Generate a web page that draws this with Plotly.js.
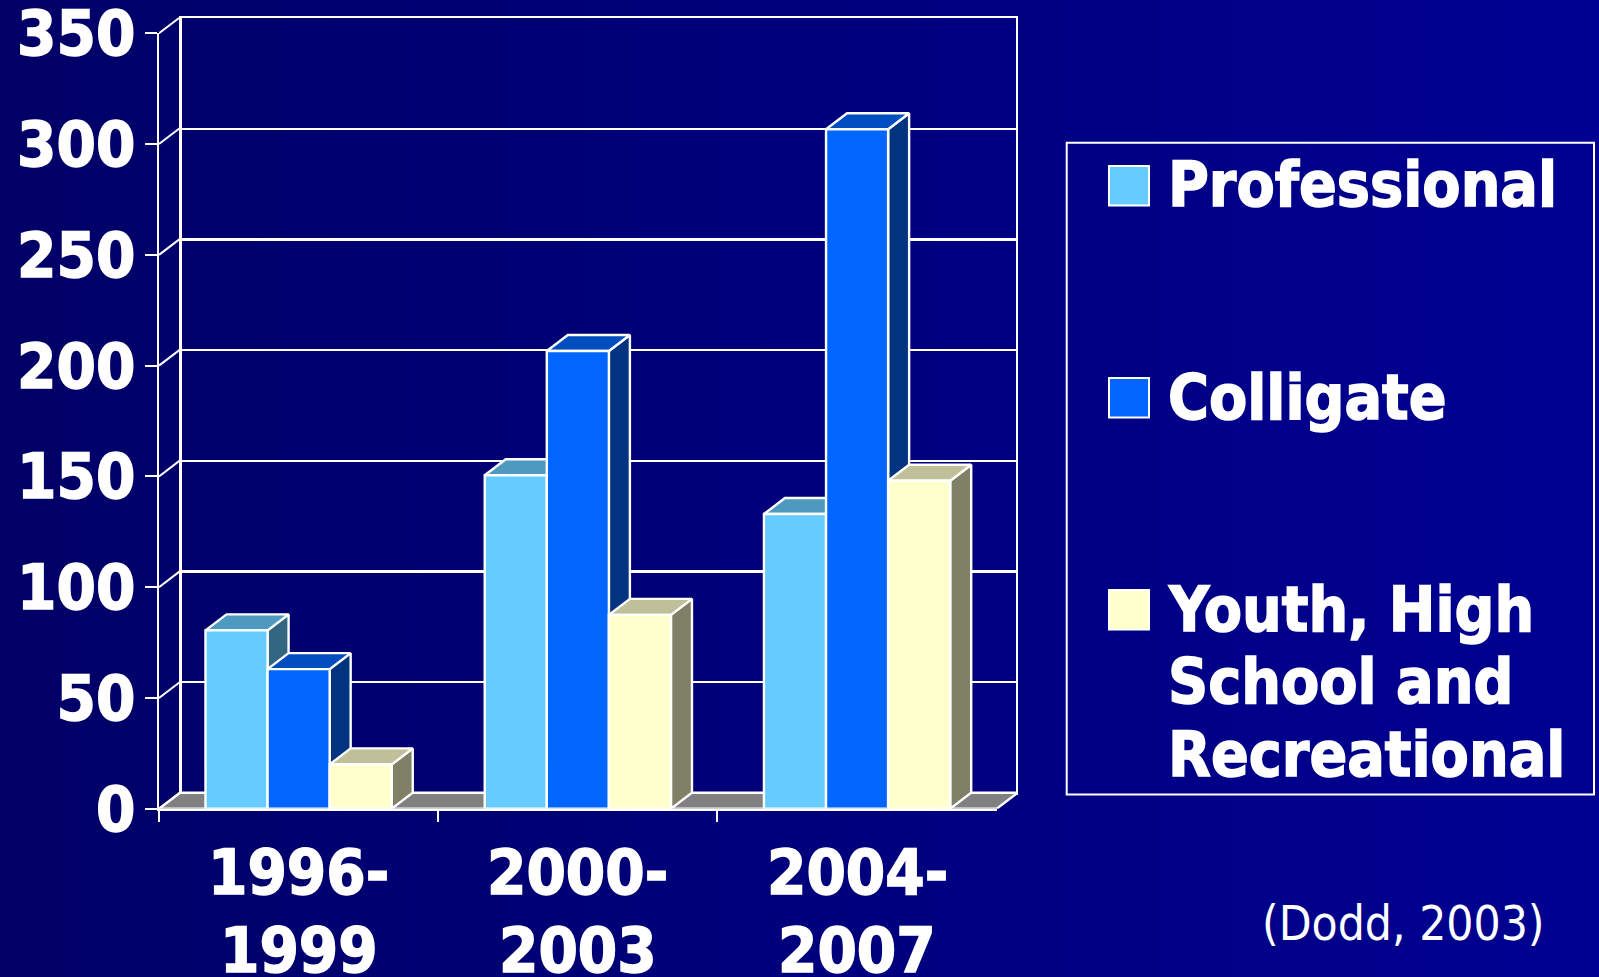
<!DOCTYPE html>
<html>
<head>
<meta charset="utf-8">
<script src="https://cdn.plot.ly/plotly-3.0.1.min.js"></script>
<style>
html,body{margin:0;padding:0;width:1599px;height:977px;overflow:hidden;background:linear-gradient(to right,#000066,#000092);}
#chart{width:1599px;height:977px;}
text[style*="font-weight: 700"]{stroke:#fff;stroke-width:1.4px;}
</style>
</head>
<body>
<div id="chart"></div>
<script>
const categories = ['1996-<br>1999', '2000-<br>2003', '2004-<br>2007'];
const seriesNames = ['Professional', 'Colligate', 'Youth, High School and Recreational'];
const professional = [80.5, 150.5, 133];
const colligate = [63, 206.6, 306.7];
const youth = [20, 87.5, 148];
const yTicks = [0, 50, 100, 150, 200, 250, 300, 350];
const citation = '(Dodd, 2003)';

const W = 1599, H = 977;
const front = {l: 159, r: 996.7, t: 33.3, b: 808.7};
const depthPx = {x: 21, y: 16};
const xRange = [-0.5, 2.5], yRange = [0, 350];
const dx = depthPx.x * (xRange[1] - xRange[0]) / (front.r - front.l);
const dy = depthPx.y * (yRange[1] - yRange[0]) / (front.b - front.t);
const bargap = 0.333;
const barW = (1 - bargap) / 3;

const frontColors = ['#66CCFF', '#0066FF', '#FFFFCC'];
const topColors = ['#4D99BF', '#004DBF', '#BFBF99'];
const sideColors = ['#336680', '#003380', '#808066'];
const seriesValues = [professional, colligate, youth];
const WHITE = '#FFFFFF';
const TEXT_BOLD = "'DejaVu Sans Condensed', 'DejaVu Sans', sans-serif";
const AXIS_SIZE = 63, LEGEND_SIZE = 62, EDGE = 2.4;
const boldFont = size => ({family: TEXT_BOLD, size: size, color: WHITE, weight: 700});

const traces = [];
// invisible trace so the back wall subplot is drawn
traces.push({type: 'scatter', mode: 'none', x: [xRange[0]], y: [yRange[0]], xaxis: 'x', yaxis: 'y', hoverinfo: 'skip', showlegend: false});
function poly(xs, ys, fill) {
  traces.push({type: 'scatter', mode: 'lines', x: xs, y: ys, xaxis: 'x2', yaxis: 'y2',
    fill: 'toself', fillcolor: fill, line: {color: WHITE, width: EDGE},
    hoverinfo: 'skip', showlegend: false});
}
// floor
poly([xRange[0], xRange[1], xRange[1] + dx, xRange[0] + dx, xRange[0]],
     [0, 0, dy, dy, 0], '#808080');
// slanted tick connectors between the front axis and the back wall
yTicks.forEach(v => {
  traces.push({type: 'scatter', mode: 'lines', x: [xRange[0], xRange[0] + dx], y: [v, v + dy], xaxis: 'x2', yaxis: 'y2',
    line: {color: WHITE, width: 2}, hoverinfo: 'skip', showlegend: false});
});
// side and top faces, left to right
categories.forEach((c, i) => {
  seriesValues.forEach((vals, s) => {
    const v = vals[i];
    const xl = i - 1.5 * barW + s * barW, xr = xl + barW;
    poly([xr, xr + dx, xr + dx, xr, xr], [0, dy, v + dy, v, 0], sideColors[s]);
    poly([xl, xl + dx, xr + dx, xr, xl], [v, v + dy, v + dy, v, v], topColors[s]);
  });
});
// front faces
seriesValues.forEach((vals, s) => {
  traces.push({type: 'bar', name: seriesNames[s], x: categories, y: vals, xaxis: 'x3', yaxis: 'y3',
    marker: {color: frontColors[s], line: {color: WHITE, width: EDGE}}, cliponaxis: false, showlegend: false});
});

const xdom = [front.l / W, front.r / W];
const ydom = [1 - front.b / H, 1 - front.t / H];
const depthX = [front.l / W, (front.r + depthPx.x) / W];
const depthY = [1 - front.b / H, 1 - (front.t - depthPx.y) / H];
const wallX = [(front.l + depthPx.x + 1.6) / W, (front.r + depthPx.x - 1.8) / W];
const wallY = [1 - (front.b - depthPx.y) / H, 1 - (front.t - depthPx.y + 1) / H];

// legend drawn at its reference size
const shapes = [{type: 'rect', xref: 'paper', yref: 'paper', x0: 1066.7 / W, x1: 1594 / W,
  y0: 1 - 794.4 / H, y1: 1 - 142.8 / H, line: {color: WHITE, width: 2}, fillcolor: 'rgba(0,0,0,0)'}];
const annotations = [];
const swatchTops = [166, 378, 590];
const legendLines = [['Professional'], ['Colligate'], ['Youth, High', 'School and', 'Recreational']];
legendLines.forEach((lines, s) => {
  shapes.push({type: 'rect', xref: 'paper', yref: 'paper', x0: 1109 / W, x1: 1149 / W,
    y0: 1 - (swatchTops[s] + 39.5) / H, y1: 1 - swatchTops[s] / H,
    line: {color: WHITE, width: 2}, fillcolor: frontColors[s]});
  lines.forEach((t, k) => {
    annotations.push({xref: 'paper', yref: 'paper', x: 1166.5 / W, y: 1 - (swatchTops[s] + 19 + k * 72.5) / H,
      xanchor: 'left', yanchor: 'middle', showarrow: false, text: t, borderpad: 0, font: boldFont(LEGEND_SIZE)});
  });
});
// category labels, two lines each
categories.forEach((c, i) => {
  c.split('<br>').forEach((t, k) => {
    annotations.push({xref: 'x3', yref: 'paper', x: i, y: 1 - (872.7 + k * 77.7) / H,
      xanchor: 'center', yanchor: 'middle', showarrow: false, text: t, borderpad: 0, font: boldFont(AXIS_SIZE)});
  });
});
annotations.push({xref: 'paper', yref: 'paper', x: 1403.5 / W, y: 1 - 923 / H, xanchor: 'center', yanchor: 'middle',
  showarrow: false, text: citation, font: {family: TEXT_BOLD, size: 47.5, color: WHITE}});

const layout = {
  width: W, height: H, margin: {l: 0, r: 0, t: 0, b: 0, pad: 0}, autosize: false,
  paper_bgcolor: 'rgba(0,0,0,0)', plot_bgcolor: 'rgba(0,0,0,0)',
  showlegend: false, barmode: 'group', bargap: bargap, bargroupgap: 0, hovermode: false,
  // back wall
  xaxis: {domain: wallX, range: xRange, type: 'linear', anchor: 'y', showgrid: false, zeroline: false,
    showticklabels: false, ticks: '', showline: true, mirror: true, linecolor: WHITE, linewidth: 2.4},
  yaxis: {domain: wallY, range: yRange, anchor: 'x', tickmode: 'array', tickvals: yTicks, showgrid: true, gridcolor: WHITE, gridwidth: 2.2,
    zeroline: false, showticklabels: false, ticks: '', showline: true, mirror: true, linecolor: WHITE, linewidth: 2.4},
  // depth faces: front scale extended by the depth offset
  xaxis2: {domain: depthX, range: [xRange[0], xRange[1] + dx], type: 'linear', anchor: 'y2', showgrid: false, zeroline: false,
    showticklabels: false, ticks: '', showline: false},
  yaxis2: {domain: depthY, range: [yRange[0], yRange[1] + dy], anchor: 'x2', showgrid: false, zeroline: false,
    showticklabels: false, ticks: '', showline: false},
  // front plane
  xaxis3: {domain: xdom, anchor: 'y3', type: 'category', range: xRange, tickson: 'boundaries', showgrid: false, zeroline: false,
    showline: true, linecolor: WHITE, linewidth: 2, ticks: 'outside', ticklen: 11, tickwidth: 2, tickcolor: WHITE,
    showticklabels: false},
  yaxis3: {domain: ydom, anchor: 'x3', range: yRange, tickmode: 'array', tickvals: yTicks, ticktext: yTicks.map(String),
    showgrid: false, zeroline: false, showline: true, linecolor: WHITE, linewidth: 2,
    ticks: 'outside', ticklen: 12, tickwidth: 2, tickcolor: WHITE, ticklabelstandoff: -3, ticklabeloverflow: 'allow',
    tickfont: boldFont(AXIS_SIZE)},
  shapes: shapes, annotations: annotations
};
Plotly.newPlot('chart', traces, layout, {displayModeBar: false, staticPlot: true});
</script>
</body>
</html>
